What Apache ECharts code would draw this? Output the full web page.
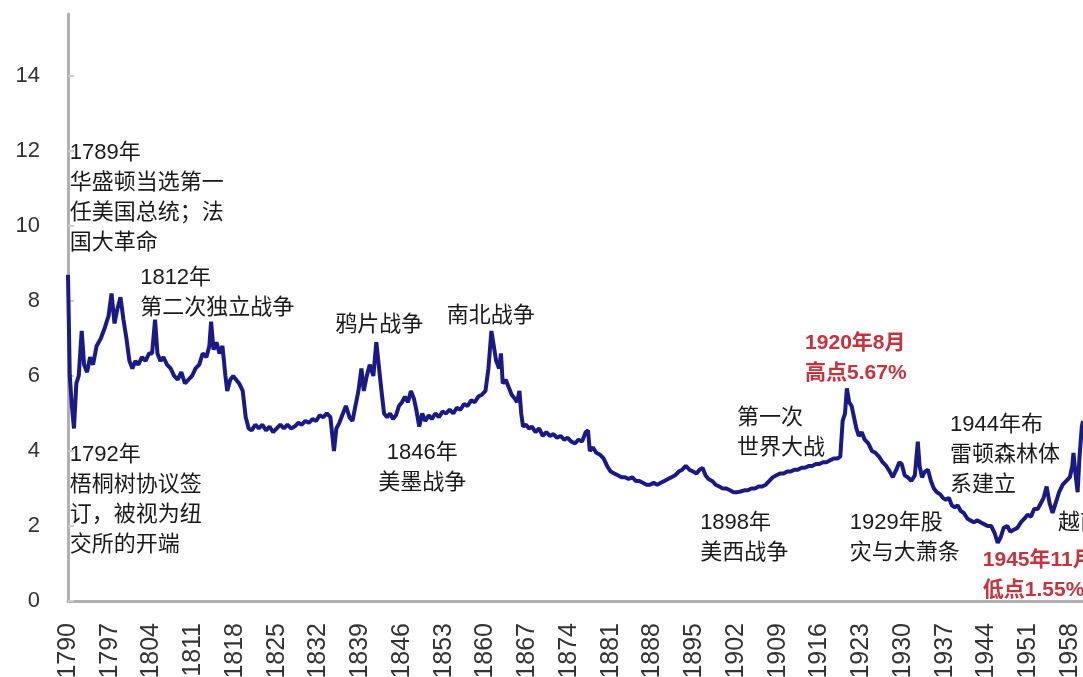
<!DOCTYPE html>
<html>
<head>
<meta charset="utf-8">
<script src="https://cdn.jsdelivr.net/npm/echarts@6/dist/echarts.min.js"></script>
<style>
  html, body { margin: 0; padding: 0; background: #ffffff; }
  #chart { width: 1083px; height: 677px; }
</style>
</head>
<body>
<div id="chart"></div>
<script>
// ---- data ----
const years = [
  1790.0,1790.3,1790.6,1791.0,1791.4,1791.8,1792.3,1792.7,1793.2,1793.7,1794.2,1794.8,1795.5,1796.2,1796.8,1797.3,1797.8,1798.3,1798.8,1799.3,1799.8,
  1800.3,1800.8,1801.3,1801.8,1802.4,1803.0,1803.6,1804.1,1804.6,1805.0,1805.5,1806.0,1806.6,1807.2,1807.8,1808.4,1809.0,1809.6,
  1810.2,1810.8,1811.4,1812.0,1812.6,1813.2,1813.7,1814.0,1814.4,1814.9,1815.4,1815.9,1816.4,1816.7,1817.2,1817.7,1818.2,1818.7,1819.3,1819.8,
  1820.3,1820.8,1821.4,1822.0,1822.6,1823.2,1823.8,1824.4,1825.0,1825.6,1826.2,1826.8,1827.4,1828.0,1828.6,1829.2,1829.8,
  1830.4,1831.0,1831.6,1832.2,1832.8,1833.4,1834.0,1834.4,1834.6,1835.0,1835.5,1836.1,1836.6,1837.2,1837.7,1838.2,1838.7,1839.2,1839.6,
  1840.1,1840.6,1841.2,1841.7,1842.1,1842.5,1843.0,1843.5,1844.0,1844.5,1845.0,1845.5,1846.0,1846.5,1847.0,1847.5,1848.0,1848.4,1848.9,1849.4,1849.9,
  1850.5,1851.0,1851.6,1852.2,1852.8,1853.4,1854.0,1854.6,1855.2,1855.8,1856.4,1857.0,1857.6,1858.2,1858.8,1859.4,
  1860.0,1860.5,1861.0,1861.4,1861.8,1862.3,1862.6,1862.9,1863.4,1863.9,1864.4,1864.9,1865.3,1865.7,1866.0,1866.3,1866.8,1867.3,1867.8,1868.4,1869.0,1869.6,
  1870.2,1870.8,1871.4,1872.0,1872.6,1873.2,1873.8,1874.4,1875.0,1875.6,1876.2,1876.8,1877.2,1877.5,1878.0,1878.6,1879.2,1879.8,
  1880.4,1881.0,1881.6,1882.2,1882.8,1883.4,1884.0,1884.6,1885.2,1885.8,1886.4,1887.0,1887.6,1888.2,1888.8,1889.4,
  1890.0,1890.6,1891.2,1891.8,1892.4,1893.0,1893.6,1894.2,1894.8,1895.4,1895.9,1896.4,1896.9,1897.4,1898.0,1898.6,1899.2,1899.8,
  1900.4,1901.0,1901.6,1902.2,1902.8,1903.4,1904.0,1904.6,1905.2,1905.8,1906.4,1907.0,1907.6,1908.2,1908.8,1909.4,
  1910.0,1910.6,1911.2,1911.8,1912.4,1913.0,1913.6,1914.2,1914.8,1915.4,1916.0,1916.6,1917.2,1917.8,1918.4,1919.0,1919.5,1919.9,
  1920.3,1920.6,1921.0,1921.4,1921.8,1922.2,1922.6,1923.1,1923.6,1924.2,1924.8,1925.4,1926.0,1926.6,1927.2,1927.8,1928.3,1928.9,1929.4,1929.8,
  1930.3,1930.8,1931.4,1932.0,1932.5,1932.8,1933.2,1933.7,1934.2,1934.7,1935.2,1935.7,1936.2,1936.7,1937.2,1937.7,1938.2,1938.7,1939.2,1939.7,
  1940.2,1940.8,1941.3,1941.9,1942.5,1943.0,1943.6,1944.2,1944.8,1945.4,1945.9,1946.4,1946.9,1947.5,1948.0,1948.6,1949.2,1949.8,
  1950.4,1950.9,1951.5,1952.0,1952.6,1953.1,1953.6,1954.1,1954.6,1955.1,1955.6,1956.2,1956.8,1957.4,1958.0,1958.4,1958.6,1959.0,1959.3,1959.6,
  1960.0,1960.2
];
const yields = [
  8.7,6.0,5.3,4.6,5.8,6.0,7.2,6.3,6.1,6.5,6.3,6.8,7.0,7.3,7.6,8.2,7.4,7.8,8.1,7.5,7.0,
  6.4,6.2,6.4,6.3,6.5,6.4,6.6,6.6,7.5,6.6,6.4,6.5,6.3,6.2,6.0,5.9,6.1,5.8,
  5.9,6.0,6.2,6.3,6.6,6.5,6.8,7.45,6.7,6.9,6.6,6.8,6.0,5.6,5.9,6.0,5.9,5.8,5.6,4.9,
  4.6,4.55,4.7,4.6,4.7,4.55,4.65,4.5,4.6,4.7,4.6,4.7,4.6,4.65,4.75,4.7,4.8,
  4.75,4.85,4.8,4.95,4.9,5.0,4.9,4.3,4.0,4.6,4.75,5.0,5.2,4.9,4.8,5.2,5.6,6.2,5.6,
  6.0,6.3,6.0,6.9,6.3,5.7,5.0,4.9,5.0,4.85,4.95,5.2,5.3,5.45,5.3,5.6,5.4,5.1,4.65,5.0,4.8,
  4.95,4.85,5.0,4.9,5.05,5.0,5.1,5.0,5.15,5.1,5.25,5.2,5.35,5.3,5.45,5.5,
  5.6,6.2,7.2,6.8,6.4,6.2,6.6,5.8,5.9,5.7,5.5,5.4,5.3,5.6,5.0,4.65,4.7,4.6,4.65,4.5,4.6,4.4,
  4.5,4.4,4.45,4.35,4.4,4.3,4.35,4.25,4.2,4.3,4.25,4.5,4.55,4.0,4.1,3.95,3.9,3.8,
  3.6,3.45,3.4,3.35,3.3,3.3,3.25,3.3,3.2,3.2,3.15,3.1,3.1,3.15,3.1,3.15,
  3.2,3.25,3.3,3.35,3.45,3.5,3.6,3.5,3.45,3.4,3.5,3.55,3.35,3.25,3.2,3.1,3.05,3.0,
  3.0,2.95,2.9,2.9,2.92,2.95,2.95,3.0,3.0,3.05,3.05,3.1,3.2,3.3,3.35,3.4,
  3.4,3.45,3.45,3.5,3.5,3.55,3.55,3.6,3.6,3.65,3.65,3.7,3.7,3.75,3.8,3.8,3.85,4.8,
  5.0,5.67,5.3,5.2,4.9,4.6,4.4,4.5,4.3,4.2,4.0,3.95,3.85,3.7,3.6,3.45,3.3,3.5,3.7,3.65,
  3.35,3.3,3.2,3.35,4.25,3.6,3.3,3.45,3.5,3.2,3.0,2.9,2.85,2.75,2.7,2.75,2.55,2.5,2.55,2.4,
  2.35,2.2,2.15,2.1,2.15,2.1,2.05,2.0,2.0,1.8,1.55,1.7,1.95,2.0,1.85,1.9,1.95,2.1,
  2.2,2.3,2.25,2.45,2.45,2.6,2.75,3.05,2.6,2.35,2.6,2.9,3.1,3.2,3.3,3.6,3.95,3.3,2.9,3.8,
  4.65,4.8
];
const yTicks = [0, 2, 4, 6, 8, 10, 12, 14];
const xLabelYears = [1790,1797,1804,1811,1818,1825,1832,1839,1846,1853,1860,1867,1874,1881,1888,1895,1902,1909,1916,1923,1930,1937,1944,1951,1958];

// annotations: text with anchor in data space (year, value) = top-left (or top-center) of the text block
const noteTexts = [
  '1789年\n华盛顿当选第一\n任美国总统；法\n国大革命',
  '1792年\n梧桐树协议签\n订，被视为纽\n交所的开端',
  '1812年\n第二次独立战争',
  '鸦片战争',
  '南北战争',
  '1846年\n美墨战争',
  '第一次\n世界大战',
  '1898年\n美西战争',
  '1920年8月\n高点5.67%',
  '1929年股\n灾与大萧条',
  '1944年布\n雷顿森林体\n系建立',
  '1945年11月\n低点1.55%',
  '越南战争'
];
const noteYears  = [1790.3, 1790.3, 1802.1, 1834.8, 1853.5, 1849.4, 1902.2, 1896.0, 1913.6, 1921.1, 1937.9, 1943.4, 1956.0];
const noteValues = [12.35, 4.29, 9.01, 7.76, 8.0, 4.35, 5.28, 2.48, 7.28, 2.48, 5.09, 1.49, 2.48];
const noteAlign  = ['left','left','left','left','left','center','left','left','left','left','left','left','left'];
const noteHighlight = [false,false,false,false,false,false,false,false,true,false,false,true,false];

// ---- chart ----
const chart = echarts.init(document.getElementById('chart'));
const seriesData = years.map((y, i) => [y, yields[i]]);
const FONT = '"Liberation Sans", "Noto Sans CJK SC", sans-serif';

chart.setOption({
  animation: false,
  backgroundColor: '#ffffff',
  grid: { left: 68, right: 0, top: 14, bottom: 76, containLabel: false, outerBoundsMode: 'none' },
  xAxis: {
    type: 'value',
    min: 1790,
    max: 1960.2,
    interval: 7,
    axisLine: { show: true, lineStyle: { color: '#b0b0b0', width: 3 } },
    axisTick: { show: false },
    splitLine: { show: false },
    axisLabel: {
      rotate: 90,
      margin: 22,
      fontSize: 25,
      color: '#333',
      fontFamily: FONT,
      showMaxLabel: false,
      formatter: v => (xLabelYears.indexOf(Math.round(v)) >= 0 ? String(Math.round(v)) : '')
    }
  },
  yAxis: {
    type: 'value',
    min: 0,
    max: 15.65,
    interval: 2,
    axisLine: { show: true, lineStyle: { color: '#b0b0b0', width: 3 } },
    axisTick: { show: true, inside: true, length: 6, lineStyle: { color: '#cccccc', width: 2 } },
    splitLine: { show: false },
    axisLabel: {
      margin: 28,
      fontSize: 22,
      color: '#333',
      fontFamily: FONT,
      showMaxLabel: false,
      formatter: v => (yTicks.indexOf(v) >= 0 ? String(v) : '')
    }
  },
  series: [{
    type: 'line',
    data: seriesData,
    symbol: 'none',
    lineStyle: { color: '#1a1a86', width: 4 },
    z: 3
  }]
});

// place annotations via the chart's own coordinate conversion
const graphics = noteTexts.map((t, i) => {
  const p = chart.convertToPixel({ gridIndex: 0 }, [noteYears[i], noteValues[i]]);
  const hi = noteHighlight[i];
  return {
    type: 'text',
    x: p[0],
    y: p[1],
    z: 10,
    style: {
      text: t,
      fill: hi ? '#c8323c' : '#1a1a1a',
      font: (hi ? 'bold 21px ' : '22px ') + FONT,
      lineHeight: 30,
      align: noteAlign[i],
      verticalAlign: 'top'
    }
  };
});
chart.setOption({ graphic: graphics });
</script>
</body>
</html>
